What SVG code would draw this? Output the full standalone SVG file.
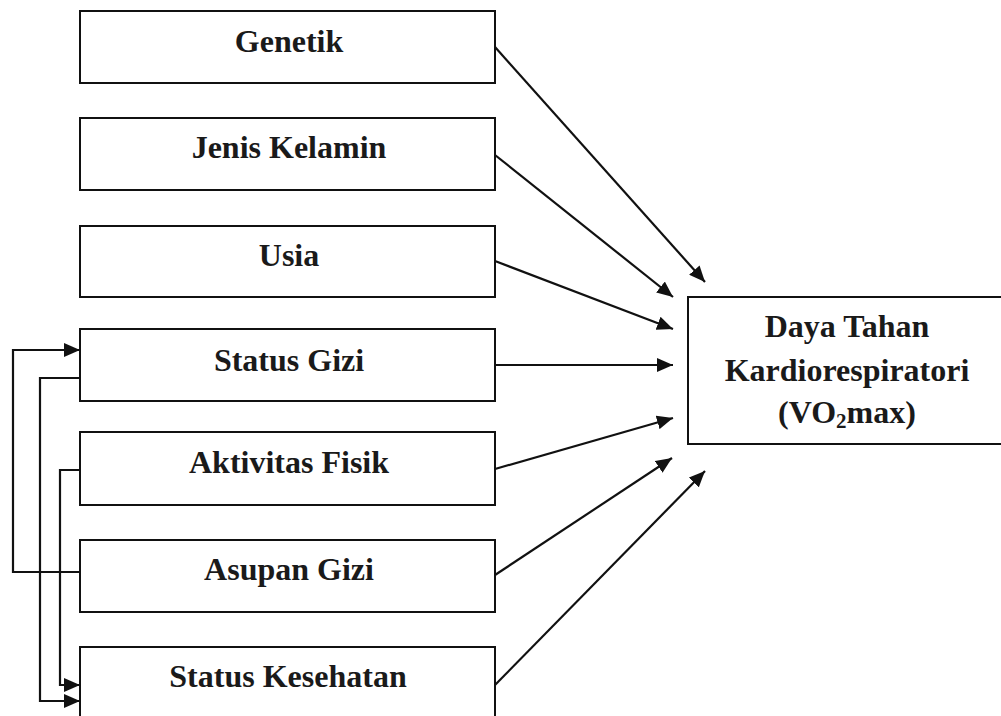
<svg xmlns="http://www.w3.org/2000/svg" width="1001" height="716" viewBox="0 0 1001 716">
<defs>
<style>
.box{fill:none;stroke:#111;stroke-width:2}
.lbl{font-family:"Liberation Serif","Times New Roman",serif;font-weight:bold;font-size:32px;fill:#1a1a1a;text-anchor:middle}
.con{fill:none;stroke:#111;stroke-width:2.2}
</style>
<marker id="ah" markerWidth="16" markerHeight="14" refX="16" refY="7" orient="auto" markerUnits="userSpaceOnUse">
<path d="M0,0 L16,7 L0,14 Z" fill="#111"/>
</marker>
</defs>
<rect width="1001" height="716" fill="#fff"/>
<g id="genetik"><rect class="box" x="80" y="11" width="415" height="72"/><text class="lbl" x="289" y="52">Genetik</text></g>
<g id="jenis-kelamin"><rect class="box" x="80" y="118" width="415" height="72"/><text class="lbl" x="289" y="158">Jenis Kelamin</text></g>
<g id="usia"><rect class="box" x="80" y="226" width="415" height="71"/><text class="lbl" x="289" y="266">Usia</text></g>
<g id="status-gizi"><rect class="box" x="80" y="329" width="415" height="72"/><text class="lbl" x="289" y="371">Status Gizi</text></g>
<g id="aktivitas-fisik"><rect class="box" x="80" y="432" width="415" height="73"/><text class="lbl" x="289" y="473">Aktivitas Fisik</text></g>
<g id="asupan-gizi"><rect class="box" x="80" y="540" width="415" height="72"/><text class="lbl" x="289" y="580">Asupan Gizi</text></g>
<g id="status-kesehatan"><rect class="box" x="80" y="647" width="415" height="80"/><text class="lbl" x="288" y="687">Status Kesehatan</text></g>
<g id="vo2max"><rect class="box" x="688" y="297" width="330" height="147"/>
<text class="lbl" x="847" y="337">Daya Tahan</text>
<text class="lbl" x="847" y="381">Kardiorespiratori</text>
<text class="lbl" x="847" y="423">(VO<tspan font-size="21" dy="5">2</tspan><tspan dy="-5">max)</tspan></text>
</g>
<g id="connectors">
<line class="con" x1="495" y1="47" x2="705" y2="282" marker-end="url(#ah)"/>
<line class="con" x1="495" y1="155" x2="673" y2="297" marker-end="url(#ah)"/>
<line class="con" x1="495" y1="261" x2="673" y2="329" marker-end="url(#ah)"/>
<line class="con" x1="495" y1="365" x2="673" y2="365" marker-end="url(#ah)"/>
<line class="con" x1="495" y1="469" x2="673" y2="418" marker-end="url(#ah)"/>
<line class="con" x1="495" y1="575" x2="672" y2="458" marker-end="url(#ah)"/>
<line class="con" x1="495" y1="685" x2="705" y2="471" marker-end="url(#ah)"/>
<polyline class="con" points="80,572 13,572 13,350 80,350" marker-end="url(#ah)"/>
<polyline class="con" points="80,378 40,378 40,701 80,701" marker-end="url(#ah)"/>
<polyline class="con" points="80,470 60,470 60,685 80,685" marker-end="url(#ah)"/>
</g>
</svg>
